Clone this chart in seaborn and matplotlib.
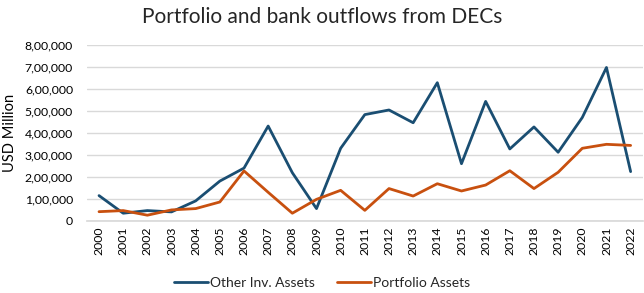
import pandas as pd
import matplotlib.pyplot as plt
import seaborn as sns
from matplotlib.ticker import FuncFormatter

years = [str(y) for y in range(2000, 2023)]
other_inv = [115000, 35000, 47000, 41000, 91000, 181000, 240000, 431000, 219000, 56000,
             330000, 483000, 504000, 446000, 628000, 260000, 543000, 327000, 427000, 312000,
             470000, 697000, 224000]
portfolio = [42000, 47000, 26000, 50000, 56000, 86000, 227000, 130000, 35000, 98000,
             139000, 48000, 147000, 113000, 169000, 136000, 163000, 228000, 147000, 221000,
             330000, 348000, 343000]
series_names = ["Other Inv. Assets", "Portfolio Assets"]

df = pd.DataFrame({
    "Year": years * 2,
    "Value": other_inv + portfolio,
    "Series": [series_names[0]] * len(years) + [series_names[1]] * len(years),
})

sns.set_theme(style="white")
plt.rcParams["font.family"] = ["Lato", "DejaVu Sans"]


def indian_fmt(v, pos):
    # lakh-style grouping: 8,00,000
    n = int(round(v))
    if n == 0:
        return "0"
    s = str(n)
    last3, rest = s[-3:], s[:-3]
    parts = []
    while len(rest) > 2:
        parts.insert(0, rest[-2:])
        rest = rest[:-2]
    if rest:
        parts.insert(0, rest)
    return ",".join(parts + [last3])


fig = plt.figure(figsize=(6.44, 2.93), dpi=100)
ax = fig.add_axes([0.135, 0.246, 0.863, 0.601])

sns.lineplot(data=df, x="Year", y="Value", hue="Series",
             palette=["#1A4E72", "#C8500F"], linewidth=2, ax=ax, legend=True)

ax.set_ylim(0, 800000)
ax.set_xlim(-0.5, len(years) - 0.5)
ax.set_yticks(range(0, 800001, 100000))
ax.yaxis.set_major_formatter(FuncFormatter(indian_fmt))
ax.grid(axis="y", color="#D9D9D9", linewidth=1)
ax.set_axisbelow(True)
for side in ["top", "right", "left"]:
    ax.spines[side].set_visible(False)
ax.spines["bottom"].set_color("#D9D9D9")
ax.tick_params(axis="x", rotation=90, labelsize=8.8, length=0, pad=4)
ax.tick_params(axis="y", labelsize=8.8, length=0, pad=10)
for lbl in ax.get_xticklabels() + ax.get_yticklabels():
    lbl.set_color("black")

ax.set_xlabel("")
ax.set_ylabel("USD Million", fontsize=10.5, color="black")
ax.yaxis.set_label_coords(-0.126, 0.5)
fig.suptitle("Portfolio and bank outflows from DECs", fontsize=15, x=0.5, y=0.975)

handles, labels = ax.get_legend_handles_labels()
ax.get_legend().remove()
fig.legend(handles, labels, loc="center", bbox_to_anchor=(0.5, 0.035), ncol=2,
           frameon=False, fontsize=10, handlelength=2.45, handletextpad=0.15,
           columnspacing=1.6)

fig.savefig("out.png", dpi=100)
